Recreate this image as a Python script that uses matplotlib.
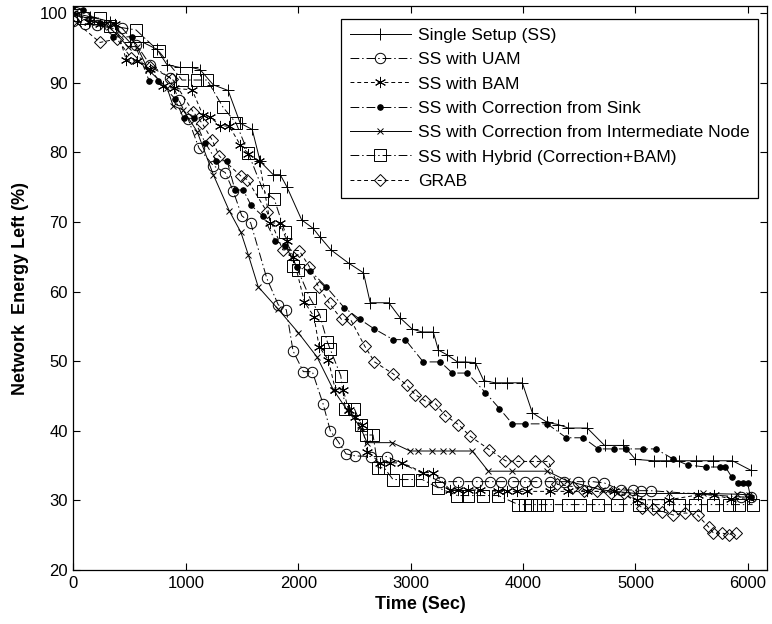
import matplotlib
matplotlib.use("Agg")
import matplotlib.pyplot as plt

plt.rcParams['font.family'] = ['Liberation Sans', 'DejaVu Sans']

# ---------------- data ----------------
labels = ["Single Setup (SS)", "SS with UAM", "SS with BAM",
          "SS with Correction from Sink",
          "SS with Correction from Intermediate Node",
          "SS with Hybrid (Correction+BAM)", "GRAB"]

ss_x = [0, 147, 325, 503, 620, 743, 832, 948, 1051, 1126, 1244, 1376, 1483, 1590,
        1661, 1777, 1839, 1897, 2030, 2131, 2190, 2290, 2447, 2580, 2640, 2805,
        2908, 3015, 3104, 3201, 3246, 3326, 3415, 3486, 3575, 3650, 3753, 3860,
        3993, 4082, 4215, 4313, 4402, 4571, 4725, 4892, 5000, 5163, 5275, 5391,
        5542, 5694, 5863, 6030]
ss_y = [100, 99.5, 98.8, 95.8, 95.8, 94.8, 92.6, 92.2, 92.2, 91.9, 89.7, 88.9, 84.2,
        83.3, 78.7, 76.8, 76.8, 75.1, 70.3, 69.1, 67.9, 66.0, 64.1, 62.7, 58.4,
        58.4, 56.2, 54.6, 54.2, 54.2, 51.6, 50.9, 49.9, 49.9, 49.8, 47.2, 46.9,
        46.9, 46.9, 42.6, 41.2, 40.9, 40.4, 40.4, 37.9, 37.9, 35.9, 35.7, 35.7,
        35.7, 35.7, 35.7, 35.7, 34.3]

uam_x = [0, 100, 205, 355, 430, 560, 680, 860, 935, 1020, 1117, 1244, 1350, 1420,
         1497, 1576, 1720, 1822, 1893, 1953, 2045, 2125, 2220, 2285, 2357, 2424,
         2505, 2647, 2790, 3264, 3424, 3593, 3709, 3807, 3913, 4020, 4118, 4243,
         4360, 4493, 4618, 4724, 4867, 4974, 5045, 5134, 5936, 6030]
uam_y = [98.9, 98.5, 98.3, 97.8, 97.9, 95.5, 92.6, 90.7, 87.6, 84.8, 80.6, 78.1,
         77.1, 74.5, 70.9, 69.9, 61.9, 58.1, 57.4, 51.5, 48.5, 48.5, 43.9, 40.0,
         38.4, 36.7, 36.4, 36.3, 36.3, 32.7, 32.7, 32.7, 32.7, 32.7, 32.7, 32.7,
         32.7, 32.7, 32.7, 32.7, 32.7, 32.5, 31.5, 31.5, 31.4, 31.4, 30.5, 30.5]

bam_x = [0, 140, 240, 370, 470, 565, 680, 800, 890, 1055, 1150, 1215, 1305, 1385,
         1483, 1555, 1652, 1750, 1840, 1900, 1955, 2055, 2140, 2185, 2267, 2330,
         2400, 2447, 2505, 2568, 2612, 2730, 2820, 2925, 3112, 3201, 3353, 3425,
         3513, 3620, 3780, 3860, 3950, 4038, 4243, 4403, 4571, 4805, 5017, 5300,
         5560, 5700, 5850, 6010]
bam_y = [100, 98.8, 98.5, 98.5, 93.3, 93.1, 92.0, 89.5, 89.2, 89.0, 85.4, 85.1,
         83.8, 83.8, 81.1, 79.8, 78.8, 69.9, 69.8, 67.2, 65.0, 58.5, 56.4, 52.1,
         50.2, 45.9, 45.9, 43.0, 42.0, 40.9, 37.0, 35.4, 35.4, 35.4, 34.0, 34.0,
         31.5, 31.5, 31.5, 31.5, 31.3, 31.3, 31.3, 31.3, 31.3, 31.3, 31.3, 31.3,
         30.1, 30.1, 30.8, 30.8, 30.2, 30.4]

sink_x = [0, 85, 236, 350, 520, 673, 755, 904, 979, 1068, 1171, 1270, 1366, 1437,
          1510, 1580, 1688, 1795, 1883, 1990, 2106, 2248, 2408, 2550, 2670, 2845,
          2952, 3112, 3264, 3371, 3504, 3664, 3790, 3905, 4020, 4215, 4385, 4536,
          4670, 4812, 4919, 5071, 5180, 5330, 5463, 5623, 5748, 5800, 5855, 5908,
          5953, 5997, 6024]
sink_y = [101, 100.5, 98.6, 96.6, 96.6, 90.3, 90.3, 87.7, 84.9, 84.9, 81.4, 78.8,
          78.8, 74.6, 74.6, 72.4, 70.8, 67.3, 66.6, 63.5, 63.0, 60.7, 57.7, 56.0,
          54.7, 53.1, 53.1, 49.9, 49.9, 48.3, 48.3, 45.5, 43.2, 41.0, 41.0, 41.0,
          39.0, 39.0, 37.4, 37.4, 37.4, 37.4, 37.4, 36.0, 35.1, 34.8, 34.8, 34.8,
          33.4, 32.5, 32.5, 32.5, 30.5]

int_x = [0, 147, 320, 485, 565, 663, 832, 886, 975, 1100, 1244, 1386, 1490, 1555,
         1643, 1820, 2000, 2167, 2312, 2433, 2550, 2612, 2835, 2995, 3068, 3193,
         3290, 3371, 3549, 3691, 3900, 4215, 4393, 4700, 5000, 5300, 5600, 5900,
         6010]
int_y = [100, 99.1, 98.0, 95.2, 95.2, 91.9, 89.3, 86.7, 86.1, 83.0, 76.8, 71.6,
         68.5, 65.3, 60.7, 57.5, 54.1, 50.6, 45.9, 43.0, 40.6, 38.3, 38.3, 37.1,
         37.1, 37.1, 37.1, 37.1, 37.1, 34.2, 34.2, 34.2, 32.8, 31.5, 31.0, 31.0,
         31.0, 30.9, 30.8]

hyb_x = [13, 85, 236, 325, 556, 761, 966, 1100, 1189, 1330, 1447, 1555, 1688, 1786,
         1883, 1955, 1996, 2103, 2190, 2258, 2285, 2378, 2418, 2498, 2559, 2603,
         2665, 2710, 2763, 2843, 2977, 3104, 3246, 3415, 3513, 3646, 3780, 3958,
         4020, 4074, 4145, 4216, 4403, 4510, 4670, 4838, 5027, 5200, 5383, 5534,
         5694, 5828, 5917, 6042]
hyb_y = [99.8, 99.3, 99.3, 98.2, 97.6, 94.5, 90.4, 90.4, 90.4, 86.5, 84.2, 79.9,
         74.5, 73.3, 68.5, 63.7, 63.1, 59.1, 56.7, 52.8, 51.7, 47.9, 43.2, 43.2,
         40.9, 39.4, 39.4, 34.7, 34.7, 33.0, 33.0, 33.0, 31.8, 30.7, 30.7, 30.7,
         30.7, 29.4, 29.4, 29.4, 29.4, 29.4, 29.4, 29.4, 29.4, 29.4, 29.4, 29.4,
         29.4, 29.4, 29.4, 29.4, 29.4, 29.4]

grab_x = [0, 236, 387, 512, 681, 877, 1066, 1144, 1233, 1296, 1490, 1545, 1720,
          1862, 2008, 2098, 2180, 2278, 2385, 2465, 2590, 2678, 2843, 2963, 3040,
          3130, 3219, 3308, 3424, 3531, 3700, 3843, 3958, 4110, 4225, 4305, 4440,
          4545, 4660, 4778, 4894, 5062, 5152, 5240, 5338, 5445, 5552, 5650, 5694,
          5774, 5828, 5890]
grab_y = [99.0, 95.8, 96.3, 93.6, 92.3, 90.6, 85.8, 84.2, 81.8, 79.5, 76.6, 76.1,
          71.5, 66.0, 65.9, 63.6, 60.7, 58.3, 56.0, 56.0, 52.2, 49.9, 48.2, 46.6,
          45.2, 44.3, 43.9, 42.2, 40.9, 39.2, 37.3, 35.7, 35.6, 35.6, 35.6, 32.3,
          32.0, 31.3, 31.3, 31.1, 31.1, 28.9, 28.8, 28.4, 27.9, 28.2, 27.9, 26.2,
          25.3, 25.3, 25.1, 25.3]

x_ticks = [0, 1000, 2000, 3000, 4000, 5000, 6000]
y_ticks = [20, 30, 40, 50, 60, 70, 80, 90, 100]

# ---------------- plot ----------------
fig = plt.figure(figsize=(7.72, 6.24), dpi=100)
ax = fig.add_axes([0.0952, 0.0865, 0.8983, 0.9035])

lw = 0.7
dashdot = (0, (9, 3, 1.5, 3))
dashed = (0, (4, 3))
common = dict(color='black', linewidth=lw, markeredgewidth=0.7)

ax.plot(ss_x, ss_y, linestyle='-', marker='+', markersize=9, label=labels[0], **common)
ax.plot(uam_x, uam_y, linestyle=dashdot, marker='o', markersize=7.5,
        markerfacecolor='none', label=labels[1], **common)
ax.plot(bam_x, bam_y, linestyle=dashed, marker=(6, 2, 0), markersize=8,
        label=labels[2], **common)
ax.plot(sink_x, sink_y, linestyle=dashdot, marker='o', markersize=4,
        markerfacecolor='black', label=labels[3], **common)
ax.plot(int_x, int_y, linestyle='-', marker='x', markersize=5, label=labels[4], **common)
ax.plot(hyb_x, hyb_y, linestyle=dashdot, marker='s', markersize=8,
        markerfacecolor='none', label=labels[5], **common)
ax.plot(grab_x, grab_y, linestyle=dashed, marker='D', markersize=6.5,
        markerfacecolor='none', label=labels[6], **common)

ax.set_xlim(0, 6170)
ax.set_ylim(20, 101)
ax.set_xticks(x_ticks)
ax.set_yticks(y_ticks)
ax.tick_params(direction='in', length=5, width=0.8, top=True, right=True,
               labelsize=12, pad=4)
for s in ax.spines.values():
    s.set_linewidth(0.9)

ax.set_xlabel("Time (Sec)", fontsize=13, fontweight='bold', labelpad=4)
ax.set_ylabel("Network  Energy Left (%)", fontsize=13, fontweight='bold', labelpad=8)

leg = ax.legend(loc='upper right', bbox_to_anchor=(0.982, 0.9696),
                bbox_transform=fig.transFigure, borderaxespad=0,
                fontsize=12.5, handlelength=3.5, handletextpad=0.4,
                labelspacing=0.53, borderpad=0.5, fancybox=False,
                framealpha=1, edgecolor='black')
leg.get_frame().set_linewidth(0.9)

fig.savefig("out.png", dpi=100)
